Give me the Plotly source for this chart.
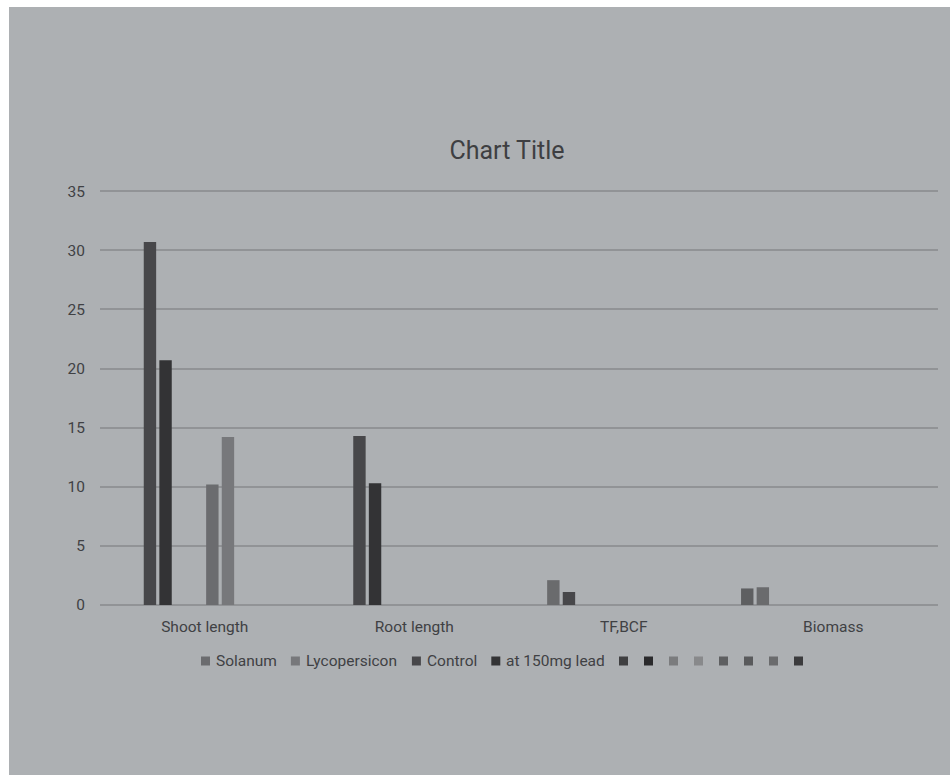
import plotly.graph_objects as go

# ---- data -------------------------------------------------------------
CATEGORIES = ["Shoot length", "Root length", "TF,BCF", "Biomass"]

SOLANUM = [10.2, 0, 0, 0]
LYCOPERSICON = [14.2, 0, 0, 0]
CONTROL = [30.7, 14.3, 1.1, 0]
LEAD_150MG = [20.7, 10.3, 0, 0]
SERIES_5 = [0, 0, 0, 0]
SERIES_6 = [0, 0, 0, 0]
SERIES_7 = [0, 0, 0, 0]
SERIES_8 = [0, 0, 0, 0]
SERIES_9 = [0, 0, 0, 1.4]
SERIES_10 = [0, 0, 0, 0]
SERIES_11 = [0, 0, 2.1, 1.5]
SERIES_12 = [0, 0, 0, 0]

SERIES_NAMES = ["Solanum", "Lycopersicon", "Control", "at 150mg lead",
                "", "", "", "", "", "", "", ""]
SERIES_VALUES = [SOLANUM, LYCOPERSICON, CONTROL, LEAD_150MG,
                 SERIES_5, SERIES_6, SERIES_7, SERIES_8,
                 SERIES_9, SERIES_10, SERIES_11, SERIES_12]

Y_TICKS = [0, 5, 10, 15, 20, 25, 30, 35]
Y_MAX = 35.1

# ---- styling ----------------------------------------------------------
SERIES_COLORS = ["#6b6c6f", "#77787b", "#47474a", "#333335",
                 "#3f3f41", "#2a2a2c", "#7b7c7e", "#88898b",
                 "#5e5f61", "#595a5c", "#6a6b6d", "#3b3b3d"]
# column slot of each series inside its category
SERIES_SLOTS = [4, 5, 0, 1, 2, 3, 6, 7, -2, 8, -1, 9]

W, H = 950, 775
M_L, M_R, M_T, M_B = 100, 12, 190, 170
PLOT_W = W - M_L - M_R
PLOT_H = H - M_T - M_B
CAT_PX = PLOT_W / len(CATEGORIES)

BAR_W = 12.4 / CAT_PX
SLOT_W = 15.6 / CAT_PX
SLOT0 = -61.0 / CAT_PX

BG = "#adb0b3"
GRID = "#919396"
TEXT = "#404144"
FONT = "Roboto"
FS = 15.5


def px_x(x):
    return (x - M_L) / PLOT_W


def px_y(y):
    return (H - M_B - y) / PLOT_H


# approximate Roboto advance widths (em)
_ADV = {" ": 0.248, "a": 0.544, "b": 0.561, "c": 0.523, "d": 0.564, "e": 0.530,
        "g": 0.561, "h": 0.551, "i": 0.243, "l": 0.243, "m": 0.876, "n": 0.552,
        "o": 0.570, "p": 0.561, "r": 0.338, "s": 0.515, "t": 0.327, "u": 0.551,
        "y": 0.473, "C": 0.652, "L": 0.538, "S": 0.593}


def text_width(s, size):
    return sum(_ADV.get(ch, 0.561) for ch in s) * size


fig = go.Figure()

for name, vals, color, slot in zip(SERIES_NAMES, SERIES_VALUES,
                                   SERIES_COLORS, SERIES_SLOTS):
    fig.add_trace(go.Bar(
        x=CATEGORIES, y=vals, name=name or " ",
        width=BAR_W, offset=SLOT0 + slot * SLOT_W,
        marker=dict(color=color, line=dict(width=0)),
        showlegend=False,
    ))

# ---- background panel --------------------------------------------------
shapes = [dict(type="rect", xref="paper", yref="paper", layer="below",
               x0=px_x(9), x1=px_x(W + 5), y0=px_y(H + 5), y1=px_y(7),
               fillcolor=BG, line=dict(width=0))]
annotations = []

# ---- legend row --------------------------------------------------------
SQ = 9
SQ_GAP = 4
ITEM_GAP = 16
LEG_Y = 661
LEG_CENTER = 502
widths = [SQ + (SQ_GAP + text_width(n, FS) if n else 0) for n in SERIES_NAMES]
total = sum(widths) + ITEM_GAP * (len(widths) - 1)
cur = LEG_CENTER - total / 2
for name, color, w in zip(SERIES_NAMES, SERIES_COLORS, widths):
    shapes.append(dict(type="rect", xref="paper", yref="paper",
                       x0=px_x(cur), x1=px_x(cur + SQ),
                       y0=px_y(LEG_Y + SQ / 2), y1=px_y(LEG_Y - SQ / 2),
                       fillcolor=color, line=dict(width=0)))
    if name:
        annotations.append(dict(text=name, xref="paper", yref="paper",
                                x=px_x(cur + SQ + SQ_GAP), y=px_y(LEG_Y),
                                xanchor="left", yanchor="middle",
                                showarrow=False,
                                font=dict(family=FONT, size=FS, color=TEXT)))
    cur += w + ITEM_GAP

fig.update_layout(
    width=W, height=H, autosize=False,
    margin=dict(l=M_L, r=M_R, t=M_T, b=M_B, pad=0),
    paper_bgcolor="white", plot_bgcolor="rgba(0,0,0,0)",
    barmode="overlay",
    title=dict(text="Chart Title", x=px_x(507), xref="paper",
               y=1 - 150 / H, yref="container",
               xanchor="center", yanchor="middle",
               font=dict(family=FONT, size=25, color="#3e3f42")),
    font=dict(family=FONT, size=FS, color=TEXT),
    xaxis=dict(type="category", showgrid=False, showline=False,
               ticks="", ticklabelstandoff=10, zeroline=False,
               tickfont=dict(family=FONT, size=FS, color=TEXT),
               range=[-0.5, len(CATEGORIES) - 0.5]),
    yaxis=dict(range=[0, Y_MAX], tickvals=Y_TICKS, showgrid=True,
               gridcolor=GRID, gridwidth=1.5, zeroline=True,
               zerolinecolor=GRID, zerolinewidth=1.5, showline=False,
               ticks="", ticklabelstandoff=14,
               tickfont=dict(family=FONT, size=FS, color=TEXT)),
    shapes=shapes,
    annotations=annotations,
)

fig.write_html("out.html")
